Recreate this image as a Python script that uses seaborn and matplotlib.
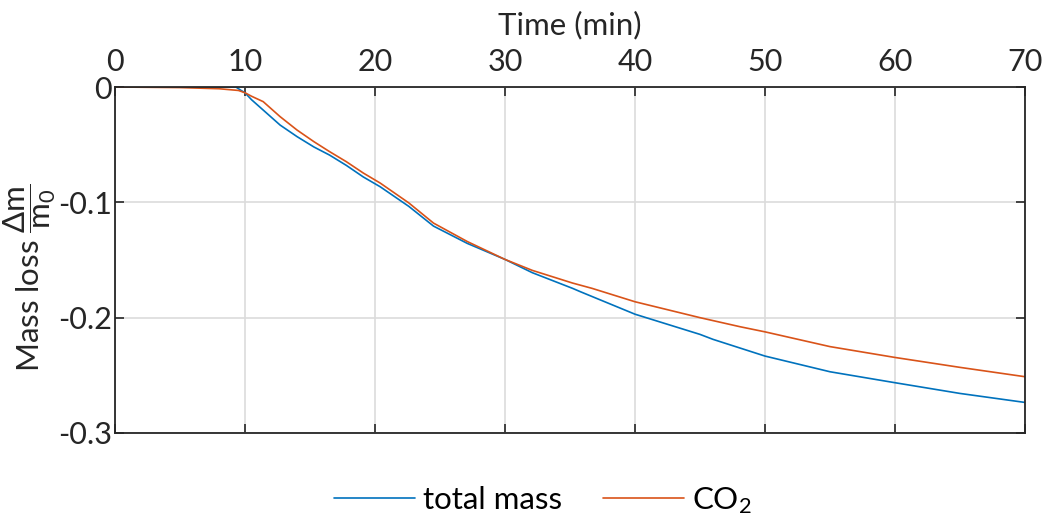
import numpy as np
import pandas as pd
import matplotlib
matplotlib.use("Agg")
import matplotlib.pyplot as plt
import seaborn as sns

# Data
time_total = [0, 5, 9.0, 9.3, 9.7, 10.0, 10.5, 11.4, 12.7, 14.0, 15.3, 16.5, 17.8, 19.1,
              20.4, 22.6, 24.5, 27.1, 30.0, 32.1, 35.2, 35.8, 40.0, 45.0, 46.0,
              50.0, 55.0, 60.0, 65.0, 70.0]
mass_total = [0.0, 0.0, 0.0, 0.0, -0.003, -0.005, -0.011, -0.020, -0.033, -0.043, -0.052,
              -0.059, -0.068, -0.078, -0.0865, -0.1035, -0.1206, -0.1356, -0.1495,
              -0.161, -0.1746, -0.1775, -0.197, -0.2145, -0.2188, -0.2333, -0.2469, -0.2564,
              -0.2657, -0.2735]

time_co2 = [0, 5, 8, 9.0, 9.5, 10.0, 10.5, 11.4, 12.7, 14.0, 15.3, 16.5, 17.8, 19.1, 20.4,
            22.6, 24.5, 27.1, 30.0, 32.1, 35.2, 36.7, 40.0, 45.0, 48.1, 50.0, 55.0,
            60.0, 65.0, 70.0]
mass_co2 = [0.0, -0.0005, -0.0015, -0.0025, -0.003, -0.005, -0.008, -0.0127, -0.0257,
            -0.0373, -0.0474, -0.056, -0.0648, -0.0746, -0.0833, -0.1005, -0.118,
            -0.134, -0.1495, -0.159, -0.170, -0.1746, -0.1862, -0.200, -0.2079, -0.2123,
            -0.2251, -0.2345, -0.2431, -0.2512]

series_names = ["total mass", "CO$_2$"]
x_ticks = [0, 10, 20, 30, 40, 50, 60, 70]
y_ticks = [0, -0.1, -0.2, -0.3]
y_tick_labels = ["0", "-0.1", "-0.2", "-0.3"]

df = pd.concat([
    pd.DataFrame({"t": time_total, "m": mass_total, "series": series_names[0]}),
    pd.DataFrame({"t": time_co2, "m": mass_co2, "series": series_names[1]}),
])

sns.set_theme(style="white")
plt.rcParams["font.family"] = ["Lato", "DejaVu Sans"]
plt.rcParams["mathtext.fontset"] = "custom"
plt.rcParams["mathtext.rm"] = "Lato"
plt.rcParams["mathtext.it"] = "Lato"
plt.rcParams["axes.unicode_minus"] = False

fig = plt.figure(figsize=(10.54, 5.17), dpi=100)
ax = fig.add_axes([115/1054, 1-433/517, (1025-115)/1054, (433-87)/517])

palette = {series_names[0]: "#0072BD", series_names[1]: "#D95319"}
sns.lineplot(data=df, x="t", y="m", hue="series", palette=palette, ax=ax,
             linewidth=1.2, estimator=None, sort=False)

ax.set_xlim(0, 70)
ax.set_ylim(-0.3, 0)
ax.set_xticks(x_ticks)
ax.set_yticks(y_ticks)
ax.set_yticklabels(y_tick_labels)
ax.xaxis.tick_top()
ax.xaxis.set_label_position("top")
ax.tick_params(axis="both", which="both", direction="in", length=6.5, width=1.2,
               top=True, bottom=True, left=True, right=True, labelsize=22,
               colors="#262626", pad=6)
ax.tick_params(axis="x", labelbottom=False, labeltop=True, pad=8)
ax.tick_params(axis="y", labelright=False, labelleft=True, pad=2)
ax.grid(True, color="#dcdcdc", linewidth=1.2)
ax.set_axisbelow(True)
for s in ax.spines.values():
    s.set_color("#262626")
    s.set_linewidth(1.3)

ax.set_xlabel("Time (min)", fontsize=22.5, color="#262626", labelpad=10)
ax.set_ylabel(r"Mass loss $\dfrac{\Delta \mathrm{m}}{\mathrm{m}_0}$", fontsize=22.5,
              color="#262626", labelpad=0.5)
ax.yaxis.label.set_y(0.45)

handles, labels = ax.get_legend_handles_labels()
ax.legend(handles, labels, loc="lower center", bbox_to_anchor=(0.47, -0.32), ncol=2,
          frameon=False, fontsize=22.5, handlelength=2.6, columnspacing=1.3,
          handletextpad=0.25, labelcolor="black")

fig.savefig("out.png", dpi=100)
